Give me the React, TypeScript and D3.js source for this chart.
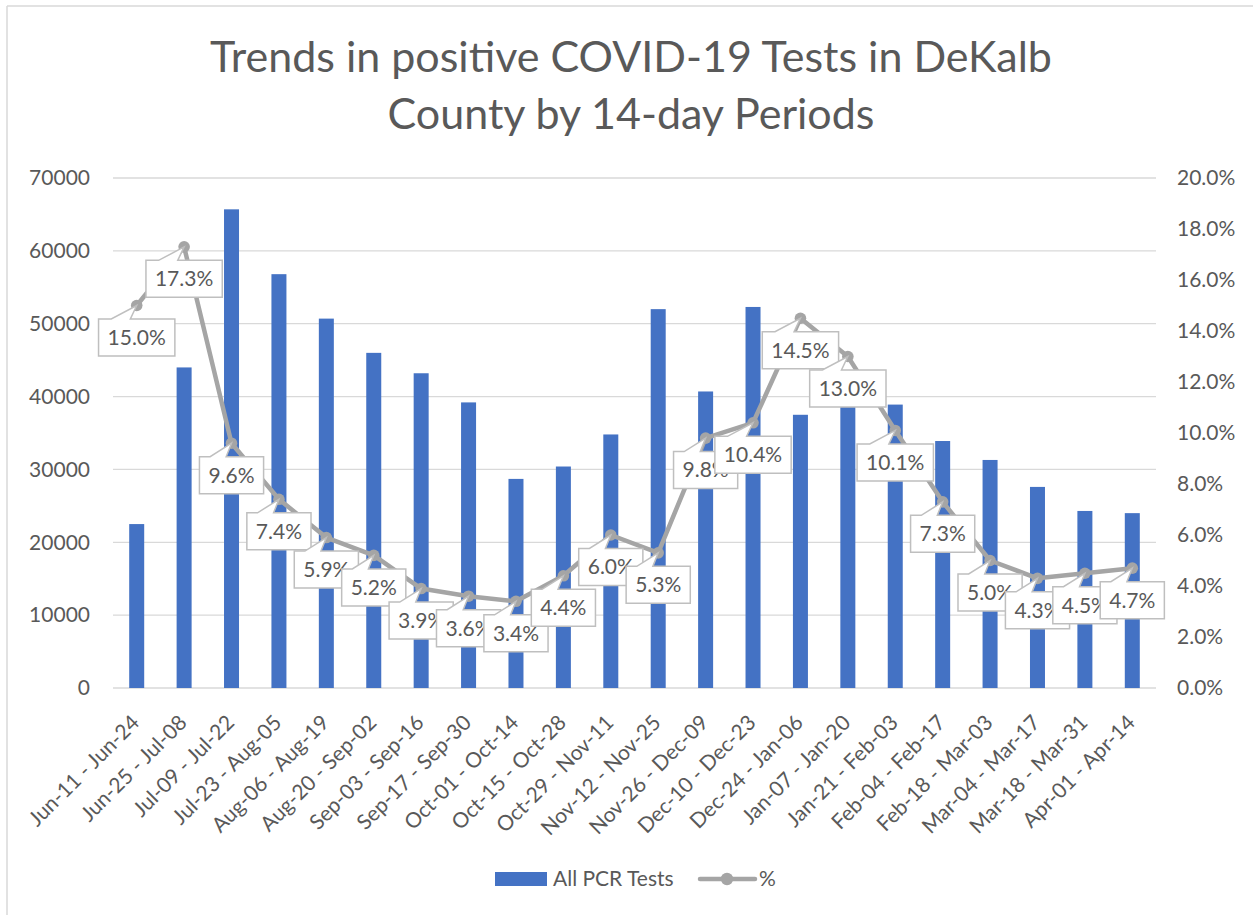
import React from "react";
import * as d3 from "d3";

const categories = [
  "Jun-11 - Jun-24", "Jun-25 - Jul-08", "Jul-09 - Jul-22", "Jul-23 - Aug-05",
  "Aug-06 - Aug-19", "Aug-20 - Sep-02", "Sep-03 - Sep-16", "Sep-17 - Sep-30",
  "Oct-01 - Oct-14", "Oct-15 - Oct-28", "Oct-29 - Nov-11", "Nov-12 - Nov-25",
  "Nov-26 - Dec-09", "Dec-10 - Dec-23", "Dec-24 - Jan-06", "Jan-07 - Jan-20",
  "Jan-21 - Feb-03", "Feb-04 - Feb-17", "Feb-18 - Mar-03", "Mar-04 - Mar-17",
  "Mar-18 - Mar-31", "Apr-01 - Apr-14",
];
const pcrTests = [
  22500, 44000, 65700, 56800, 50700, 46000, 43200, 39200, 28700, 30400, 34800,
  52000, 40700, 52300, 37500, 41000, 38900, 33900, 31300, 27600, 24300, 24000,
];
const positivity = [
  0.15, 0.173, 0.096, 0.074, 0.059, 0.052, 0.039, 0.036, 0.034, 0.044, 0.06,
  0.053, 0.098, 0.104, 0.145, 0.13, 0.101, 0.073, 0.05, 0.043, 0.045, 0.047,
];
const leftTicks = [0, 10000, 20000, 30000, 40000, 50000, 60000, 70000];
const rightTicks = [0, 0.02, 0.04, 0.06, 0.08, 0.1, 0.12, 0.14, 0.16, 0.18, 0.2];
const titleLines = ["Trends in positive COVID-19 Tests in DeKalb", "County by 14-day Periods"];
const seriesNames = ["All PCR Tests", "%"];

const W = 1253;
const H = 915;
const FONT = "Lato, 'Open Sans', sans-serif";
const TEXT = "#595959";
const GRID = "#d9d9d9";
const BAR = "#4472c4";
const LINE = "#a5a5a5";

const plot = { left: 113, right: 1156, top: 178, bottom: 688 };

let ctx: CanvasRenderingContext2D | null = null;
function measure(text: string, size: number): number {
  if (!ctx) ctx = document.createElement("canvas").getContext("2d");
  if (!ctx) return text.length * size * 0.55;
  ctx.font = `${size}px Lato`;
  return ctx.measureText(text).width;
}

export default function App() {
  const x = d3.scaleBand<string>().domain(categories).range([plot.left, plot.right]).padding(0);
  const yL = d3.scaleLinear().domain([0, 70000]).range([plot.bottom, plot.top]);
  const yR = d3.scaleLinear().domain([0, 0.2]).range([plot.bottom, plot.top]);
  const cx = (c: string) => (x(c) as number) + x.bandwidth() / 2;
  const barW = 15;
  const pctFmt = d3.format(".1%");

  const pts: [number, number][] = categories.map((c, i) => [cx(c), yR(positivity[i])]);
  const linePath = d3.line()(pts) || "";

  const labelSize = 21;

  return (
    <svg
      width={W}
      height={H}
      style={{ position: "absolute", left: 0, top: 0, background: "#fff" }}
      fontFamily={FONT}
    >
      <rect x={0} y={0} width={W} height={H} fill="#fff" />
      <line x1={7} y1={6} x2={W} y2={6} stroke={GRID} strokeWidth={1.5} />
      <line x1={7} y1={6} x2={7} y2={H} stroke={GRID} strokeWidth={1.5} />

      {titleLines.map((t, i) => (
        <text key={t} x={631} y={72 + i * 56.5} textAnchor="middle" fontSize={43} fill={TEXT}>
          {t}
        </text>
      ))}

      {leftTicks.map((t) => (
        <g key={"g" + t}>
          <line x1={plot.left} x2={plot.right} y1={yL(t)} y2={yL(t)} stroke={GRID} strokeWidth={1.3} />
          <text x={90} y={yL(t)} dy="0.35em" textAnchor="end" fontSize={labelSize} fill={TEXT}>
            {t}
          </text>
        </g>
      ))}
      {rightTicks.map((t) => (
        <text key={"r" + t} x={1177} y={yR(t)} dy="0.35em" textAnchor="start" fontSize={labelSize} fill={TEXT}>
          {pctFmt(t)}
        </text>
      ))}

      {categories.map((c, i) => (
        <rect
          key={"b" + c}
          x={cx(c) - barW / 2}
          y={yL(pcrTests[i])}
          width={barW}
          height={plot.bottom - yL(pcrTests[i])}
          fill={BAR}
        />
      ))}

      {categories.map((c) => (
        <text
          key={"x" + c}
          transform={`translate(${cx(c) + 4},${724}) rotate(-45)`}
          textAnchor="end"
          fontSize={labelSize}
          fill={TEXT}
        >
          {c}
        </text>
      ))}

      <path d={linePath} fill="none" stroke={LINE} strokeWidth={4.5} strokeLinejoin="round" />
      {pts.map(([px, py], i) => (
        <circle key={"m" + i} cx={px} cy={py} r={5.8} fill={LINE} />
      ))}

      {pts.map(([px, py], i) => {
        const label = pctFmt(positivity[i]);
        const tw = measure(label, labelSize);
        const w = tw + 18;
        const h = 37;
        const left = px - w / 2;
        const top = py + 13.5;
        const right = left + w;
        const bottom = top + h;
        const d = `M${left},${top}L${left + (w * 2) / 12},${top}L${px},${py}L${left + (w * 5) / 12},${top}L${right},${top}L${right},${bottom}L${left},${bottom}Z`;
        return (
          <g key={"c" + i}>
            <path d={d} fill="#fff" stroke="#bfbfbf" strokeWidth={1.5} strokeLinejoin="miter" />
            <text x={px} y={top + h / 2} dy="0.35em" textAnchor="middle" fontSize={labelSize} fill={TEXT}>
              {label}
            </text>
          </g>
        );
      })}

      <rect x={495} y={872} width={52} height={14} fill={BAR} />
      <text x={553} y={886} fontSize={labelSize} fill={TEXT}>
        {seriesNames[0]}
      </text>
      <line x1={700} x2={755} y1={879} y2={879} stroke={LINE} strokeWidth={4.5} strokeLinecap="round" />
      <circle cx={727} cy={879} r={6.2} fill={LINE} />
      <text x={759} y={886} fontSize={labelSize} fill={TEXT}>
        {seriesNames[1]}
      </text>
    </svg>
  );
}
